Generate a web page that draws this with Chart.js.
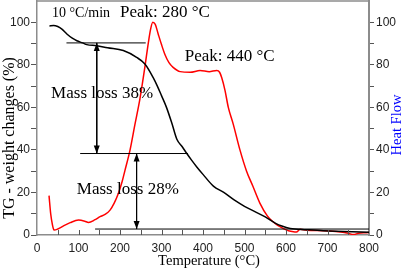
<!DOCTYPE html>
<html>
<head>
  <meta charset="utf-8">
  <title>TG and Heat Flow</title>
  <script src="https://cdn.jsdelivr.net/npm/chart.js"></script>
  <style>
    html, body { margin: 0; padding: 0; background: #fff; }
  </style>
</head>
<body>
  <canvas id="tgChart" width="401" height="269"></canvas>

  <script>
    // TG curve, weight change (%) against temperature (°C)
    const tgTemp = [30, 40, 50, 60, 72, 85, 96, 110, 120, 144, 170, 208, 240, 260, 280, 290, 300, 312, 325, 337, 350, 361, 372, 385, 400, 425, 450, 475, 500, 525, 550, 575, 590, 610, 650, 690, 740, 800];
    const tgWeight = [98.3, 98.5, 98, 96.8, 94.5, 92.5, 91.3, 90.3, 89.5, 89, 88, 86.7, 83.5, 80.4, 74, 70, 65.5, 60, 52.5, 45, 41.5, 38.3, 35.3, 32, 28.5, 23, 20, 16.5, 13.5, 11, 8.5, 5.5, 4.2, 3.1, 2.5, 2, 1.7, 1.3];

    // heat flow curve (right axis)
    const hfTemp = [29, 33, 37, 41, 50, 63, 80, 100, 115, 124, 140, 152, 165, 176, 186, 196, 205, 212, 224, 236, 248, 260, 268, 274, 279, 285, 292, 300, 308, 318, 328, 345, 369, 393, 415, 433, 440, 445, 453, 461, 473, 489, 505, 520, 537, 555, 569, 580, 593, 606, 618, 625, 634, 650, 690, 720, 750, 762, 775, 794, 800];
    const hfValue = [18.5, 10, 5, 2.3, 2.8, 4.2, 5.8, 7, 6.5, 5.9, 7.2, 8.6, 9.8, 11.7, 15, 19.5, 25, 30.4, 39.8, 52, 64, 79, 90, 97, 100, 99, 94.5, 89.5, 85, 81, 78.8, 76.8, 76.5, 77.3, 76.8, 77.3, 76.5, 74, 68, 60, 52, 40, 30, 23, 15, 9, 6.2, 4.5, 3.1, 2, 1.5, 1.4, 2.7, 2.2, 2, 1.6, 0.8, 0.2, 0.8, 1.1, 1.2];

    // horizontal guide lines and the two mass-loss arrows
    const guideLevel = [90.3, 38.3, 2.8];
    const guideStart = [71, 104, 140];
    const guideEnd = [262, 364, 800];
    const arrowTemp = [144, 240];
    const arrowTop = [90.3, 38.3];
    const arrowBottom = [38.3, 2.8];

    const notes = [
      { text: '10 \u00b0C/min', x: 36, y: 104, size: 14 },
      { text: 'Peak: 280 \u00b0C', x: 200, y: 104.4, size: 17 },
      { text: 'Peak: 440 \u00b0C', x: 356, y: 83.8, size: 17 },
      { text: 'Mass loss 38%', x: 34, y: 66.4, size: 17 },
      { text: 'Mass loss 28%', x: 96, y: 21.6, size: 17 }
    ];

    const serif = "'Liberation Serif', 'DejaVu Serif', serif";
    const sans = "'Liberation Sans', Arial, sans-serif";
    const axisGray = '#8c8c8c';

    const pts = (xs, ys) => xs.map((x, i) => ({ x: x, y: ys[i] }));

    const datasets = [];
    guideLevel.forEach((lv, i) => {
      datasets.push({
        data: [{ x: guideStart[i], y: lv }, { x: guideEnd[i], y: lv }],
        borderColor: '#000', borderWidth: 1, pointRadius: 0, yAxisID: 'y'
      });
    });
    arrowTemp.forEach((t, i) => {
      datasets.push({
        data: [{ x: t, y: arrowTop[i] }, { x: t, y: arrowBottom[i] }],
        borderColor: '#000', borderWidth: 1, pointRadius: 0, yAxisID: 'y'
      });
    });
    datasets.push({
      label: 'TG',
      data: pts(tgTemp, tgWeight),
      borderColor: '#000', borderWidth: 1.5, pointRadius: 0,
      cubicInterpolationMode: 'monotone', yAxisID: 'y'
    });
    datasets.push({
      label: 'Heat Flow',
      data: pts(hfTemp, hfValue),
      borderColor: '#ff0000', borderWidth: 1.5, pointRadius: 0,
      cubicInterpolationMode: 'monotone', yAxisID: 'y2'
    });

    const noTop = (scale) => { scale.ticks = scale.ticks.filter(t => t.value <= 100); };
    const yLabel = (v) => (v % 20 === 0 ? v : '');

    const decor = {
      id: 'decor',
      afterDatasetsDraw(chart) {
        const ctx = chart.ctx;
        const xs = chart.scales.x, ys = chart.scales.y;
        ctx.save();
        ctx.fillStyle = '#000';
        arrowTemp.forEach((t, i) => {
          const px = xs.getPixelForValue(t);
          const top = ys.getPixelForValue(arrowTop[i]);
          const bot = ys.getPixelForValue(arrowBottom[i]);
          ctx.beginPath();
          ctx.moveTo(px, top); ctx.lineTo(px - 3, top + 8); ctx.lineTo(px + 3, top + 8);
          ctx.closePath(); ctx.fill();
          ctx.beginPath();
          ctx.moveTo(px, bot); ctx.lineTo(px - 3, bot - 8); ctx.lineTo(px + 3, bot - 8);
          ctx.closePath(); ctx.fill();
        });
        ctx.restore();
      },
      afterDraw(chart) {
        const ctx = chart.ctx;
        const a = chart.chartArea;
        const xs = chart.scales.x, ys = chart.scales.y;
        ctx.save();
        // top frame line
        ctx.strokeStyle = axisGray;
        ctx.lineWidth = 1.5;
        ctx.beginPath(); ctx.moveTo(a.left, a.top); ctx.lineTo(a.right, a.top); ctx.stroke();
        // inward ticks on the temperature axis, every 50 °C
        ctx.lineWidth = 1;
        ctx.strokeStyle = '#555';
        for (let t = 50; t < 800; t += 50) {
          const px = Math.round(xs.getPixelForValue(t)) + 0.5;
          ctx.beginPath(); ctx.moveTo(px, a.bottom); ctx.lineTo(px, a.bottom - 5); ctx.stroke();
        }
        // annotations
        ctx.fillStyle = '#000';
        ctx.textBaseline = 'middle';
        ctx.textAlign = 'left';
        notes.forEach(n => {
          ctx.font = n.size + 'px ' + serif;
          ctx.fillText(n.text, xs.getPixelForValue(n.x), ys.getPixelForValue(n.y));
        });
        // axis titles
        ctx.textAlign = 'center';
        ctx.font = '14.5px ' + serif;
        ctx.fillText('Temperature (\u00b0C)', 209, 261);
        ctx.save();
        ctx.translate(10, 138);
        ctx.rotate(-Math.PI / 2);
        ctx.font = '16px ' + serif;
        ctx.fillText('TG - weight changes (%)', 0, 0);
        ctx.restore();
        ctx.save();
        ctx.translate(397, 125);
        ctx.rotate(-Math.PI / 2);
        ctx.fillStyle = '#0000ff';
        ctx.font = '14.5px ' + serif;
        ctx.fillText('Heat Flow', 0, 0);
        ctx.restore();
        ctx.restore();
      }
    };

    new Chart(document.getElementById('tgChart').getContext('2d'), {
      type: 'line',
      data: { datasets: datasets },
      options: {
        responsive: false,
        animation: false,
        devicePixelRatio: 1,
        layout: { padding: { top: 1, left: 0, right: 0, bottom: 0 } },
        plugins: { legend: { display: false }, tooltip: { enabled: false } },
        scales: {
          x: {
            type: 'linear', min: 0, max: 800,
            grid: { display: false, drawTicks: false },
            border: { display: true, color: axisGray, width: 1.5 },
            ticks: { stepSize: 100, maxRotation: 0, autoSkip: false, padding: 6, color: '#222', font: { family: sans, size: 12 } },
            afterFit: (s) => { s.height = 34; s.paddingLeft = 0; s.paddingRight = 0; }
          },
          y: {
            position: 'left', min: 0, max: 110,
            afterBuildTicks: noTop,
            grid: { display: true, drawOnChartArea: false, drawTicks: true, tickLength: 6, color: '#555' },
            border: { display: true, color: axisGray, width: 1.5 },
            ticks: { stepSize: 10, autoSkip: false, padding: 1, color: '#222', font: { family: sans, size: 12 }, callback: yLabel },
            afterFit: (s) => { s.width = 37; s.paddingTop = 0; s.paddingBottom = 0; }
          },
          y2: {
            position: 'right', min: 0, max: 110,
            afterBuildTicks: noTop,
            grid: { display: true, drawOnChartArea: false, drawTicks: true, tickLength: 5, color: '#555' },
            border: { display: true, color: axisGray, width: 2 },
            ticks: { stepSize: 10, autoSkip: false, padding: 2, color: '#222', font: { family: sans, size: 12 }, callback: yLabel },
            afterFit: (s) => { s.width = 32; s.paddingTop = 0; s.paddingBottom = 0; }
          }
        }
      },
      plugins: [decor]
    });
  </script>
</body>
</html>
